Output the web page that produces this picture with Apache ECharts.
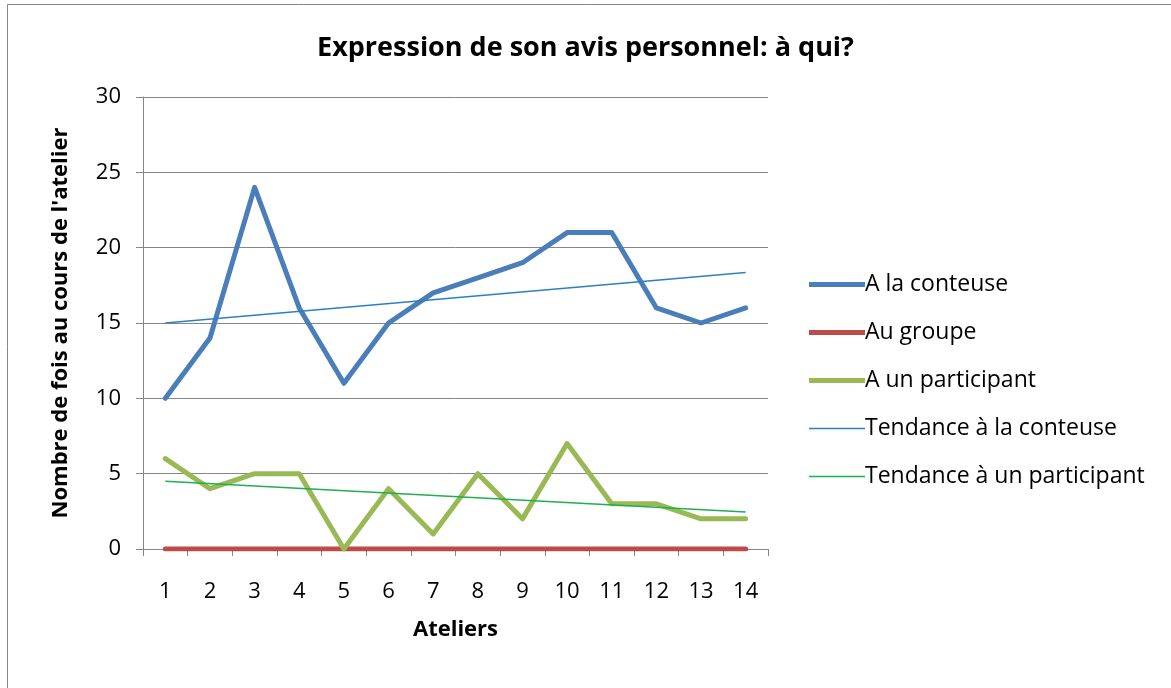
<!DOCTYPE html>
<html><head><meta charset="utf-8">
<script src="https://cdn.jsdelivr.net/npm/echarts@6/dist/echarts.min.js"></script>
<style>html,body{margin:0;padding:0;background:#fff}#c{width:1171px;height:688px}</style>
</head><body><div id="c"></div>
<script>
var categories = ['1','2','3','4','5','6','7','8','9','10','11','12','13','14'];
var conteuse = [10,14,24,16,11,15,17,18,19,21,21,16,15,16];
var groupe = [0,0,0,0,0,0,0,0,0,0,0,0,0,0];
var participant = [6,4,5,5,0,4,1,5,2,7,3,3,2,2];
var trendConteuse = [15.0,null,null,null,null,null,null,null,null,null,null,null,null,18.35];
var trendParticipant = [4.5,null,null,null,null,null,null,null,null,null,null,null,null,2.45];

var F = '"Open Sans", sans-serif';
var thick = 'path://M0,0H100V9H0Z';
var thin = 'path://M0,0H100V2.5H0Z';
var chart = echarts.init(document.getElementById('c'));
chart.setOption({
  animation:false,
  backgroundColor:'#fff',
  graphic:[{type:'rect',shape:{x:7.5,y:4.5,width:1200,height:720},style:{fill:'none',stroke:'#868686',lineWidth:1}}],
  title:{text:'Expression de son avis personnel: à qui?',left:'center',top:30,
    textStyle:{fontFamily:F,fontSize:27,fontWeight:'bold',color:'#000'}},
  grid:{left:143,top:97,width:625,height:452,containLabel:false},
  legend:{orient:'vertical',left:804,top:268,itemGap:25,itemWidth:56,itemHeight:27,
    textStyle:{fontFamily:F,fontSize:23,color:'#000',padding:[0,0,0,-5]},
    data:[
      {name:'A la conteuse',icon:thick},
      {name:'Au groupe',icon:thick},
      {name:'A un participant',icon:thick},
      {name:'Tendance à la conteuse',icon:thin},
      {name:'Tendance à un participant',icon:thin}]},
  xAxis:{type:'category',data:categories,boundaryGap:true,
    name:'Ateliers',nameLocation:'middle',nameGap:70,
    nameTextStyle:{fontFamily:F,fontSize:22,fontWeight:'bold',color:'#000'},
    axisLine:{lineStyle:{color:'#868686',width:1}},
    axisTick:{show:true,alignWithLabel:false,length:7,lineStyle:{color:'#868686'}},
    axisLabel:{fontFamily:F,fontSize:22,color:'#000',margin:32},
    splitLine:{show:false}},
  yAxis:{type:'value',min:0,max:30,interval:5,
    name:"Nombre de fois au cours de l'atelier",nameLocation:'middle',nameGap:71,nameRotate:90,
    nameTextStyle:{fontFamily:F,fontSize:22,fontWeight:'bold',color:'#000'},
    axisLine:{show:true,lineStyle:{color:'#868686',width:1}},
    axisTick:{show:true,length:7,lineStyle:{color:'#868686'}},
    axisLabel:{fontFamily:F,fontSize:22,color:'#000',margin:22},
    splitLine:{show:true,lineStyle:{color:'#868686',width:1}}},
  series:[
    {name:'A la conteuse',type:'line',data:conteuse,symbol:'none',symbolKeepAspect:true,
      lineStyle:{color:'#4a7ebb',width:5,cap:'round',join:'round'},itemStyle:{color:'#4a7ebb'}},
    {name:'Au groupe',type:'line',data:groupe,symbol:'none',symbolKeepAspect:true,
      lineStyle:{color:'#be4b48',width:5,cap:'round'},itemStyle:{color:'#be4b48'}},
    {name:'A un participant',type:'line',data:participant,symbol:'none',symbolKeepAspect:true,
      lineStyle:{color:'#98b954',width:5,cap:'round',join:'round'},itemStyle:{color:'#98b954'}},
    {name:'Tendance à la conteuse',type:'line',data:trendConteuse,connectNulls:true,symbol:'none',symbolKeepAspect:true,
      lineStyle:{color:'#2a7fc8',width:1.5},itemStyle:{color:'#2a7fc8'}},
    {name:'Tendance à un participant',type:'line',data:trendParticipant,connectNulls:true,symbol:'none',symbolKeepAspect:true,
      lineStyle:{color:'#1db04e',width:1.5},itemStyle:{color:'#1db04e'}}
  ]
});
</script></body></html>
